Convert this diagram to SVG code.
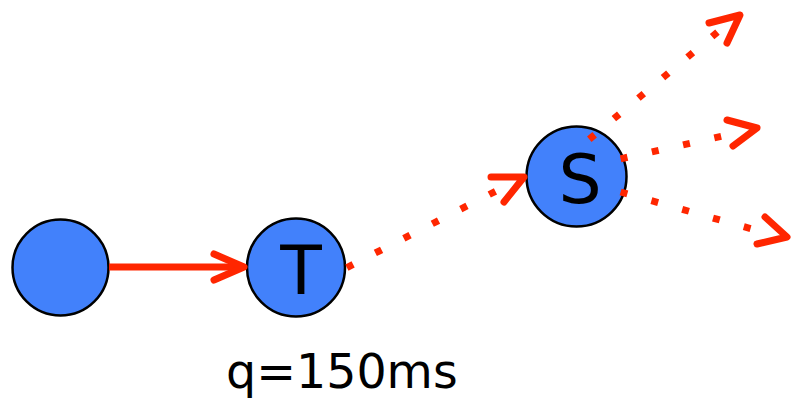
<svg xmlns="http://www.w3.org/2000/svg" width="791" height="404" viewBox="0 0 791 404">
<style>
.node{fill:#4281fb;stroke:#000;stroke-width:2.5}
.lbl{font-family:"DejaVu Sans",sans-serif;fill:#000;text-anchor:middle}
.solid{stroke:#ff2600;stroke-width:7;fill:none;stroke-linecap:butt}
.dot{stroke:#ff2600;stroke-width:7;fill:none;stroke-dasharray:7 25}
.head{stroke:#ff2600;stroke-width:7;fill:none;stroke-linecap:round;stroke-linejoin:round}
</style>
<rect width="791" height="404" fill="#fff"/>
<g id="n1"><circle class="node" cx="60.5" cy="267.5" r="48"/></g>
<g id="T"><circle class="node" cx="296" cy="267.5" r="49"/><text class="lbl" x="301" y="294" font-size="68">T</text></g>
<g id="S"><circle class="node" cx="576.5" cy="176.5" r="50"/><text class="lbl" x="580" y="203" font-size="68">S</text></g>
<g id="connectors">
<line class="solid" x1="109" y1="267" x2="243" y2="267"/>
<polyline class="head" points="214,254 244,267 214,280"/>
<line class="dot" x1="346.9" y1="267.6" x2="498" y2="190"/>
<polyline class="head" points="491,177 524,177 504,202"/>
<line class="dot" x1="589.3" y1="139.2" x2="720" y2="30"/>
<polyline class="head" points="709,23 740,15 727,43"/>
<line class="dot" x1="620.6" y1="158.8" x2="723" y2="136"/>
<polyline class="head" points="727,120 757,128 733,146"/>
<line class="dot" x1="620.6" y1="192" x2="753" y2="229.3"/>
<polyline class="head" points="765,217 787,237 757,244"/>
</g>
<text id="q" x="226" y="388" font-family="DejaVu Sans, sans-serif" font-size="47.5">q=150ms</text>
</svg>
